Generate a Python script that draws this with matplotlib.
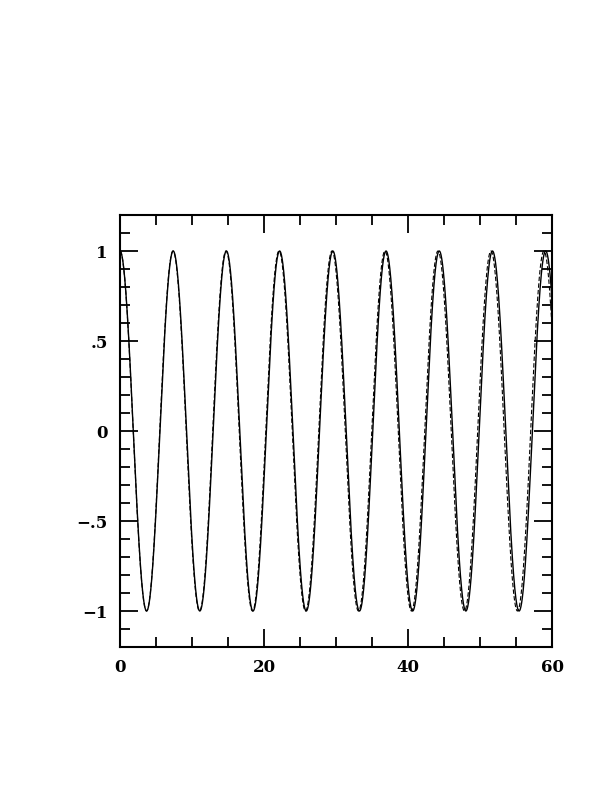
import matplotlib
matplotlib.use("Agg")
import matplotlib.pyplot as plt
import numpy as np
from matplotlib.ticker import FixedLocator, MultipleLocator

## valores
t_max = 60
periodo_solido = 7.39     # periodo de la curva continua
periodo_guiones = 7.36    # periodo de la curva a trazos
amplitud = 1.0

xticks = [0, 20, 40, 60]
xlabels = ["0", "20", "40", "60"]
yticks = [-1, -0.5, 0, 0.5, 1]
ylabels = ["\u22121", "\u2212.5", "0", ".5", "1"]

t = np.linspace(0, t_max, 3000)
y_solido = amplitud * np.cos(2 * np.pi * t / periodo_solido)
y_guiones = amplitud * np.cos(2 * np.pi * t / periodo_guiones)

fig = plt.figure(figsize=(6.12, 7.92), dpi=100)
ax = fig.add_axes([120 / 612, 145 / 792, 432 / 612, 432 / 792])

ax.plot(t, y_solido, color="black", lw=1.0)
ax.plot(t, y_guiones, color="black", lw=0.8, ls=(0, (4, 2)))

ax.set_xlim(0, 60)
ax.set_ylim(-1.2, 1.2)

ax.xaxis.set_major_locator(FixedLocator(xticks))
ax.set_xticklabels(xlabels)
ax.xaxis.set_minor_locator(MultipleLocator(5))
ax.yaxis.set_major_locator(FixedLocator(yticks))
ax.set_yticklabels(ylabels)
ax.yaxis.set_minor_locator(MultipleLocator(0.1))

ax.tick_params(which="both", direction="in", top=True, right=True, width=1.3, color="black")
ax.tick_params(which="major", length=13, pad=9, labelsize=12)
ax.tick_params(which="minor", length=7)
for lab in ax.get_xticklabels() + ax.get_yticklabels():
    lab.set_family("DejaVu Serif")
    lab.set_fontweight("bold")

for s in ax.spines.values():
    s.set_linewidth(1.5)

fig.savefig("out.png", dpi=100)
